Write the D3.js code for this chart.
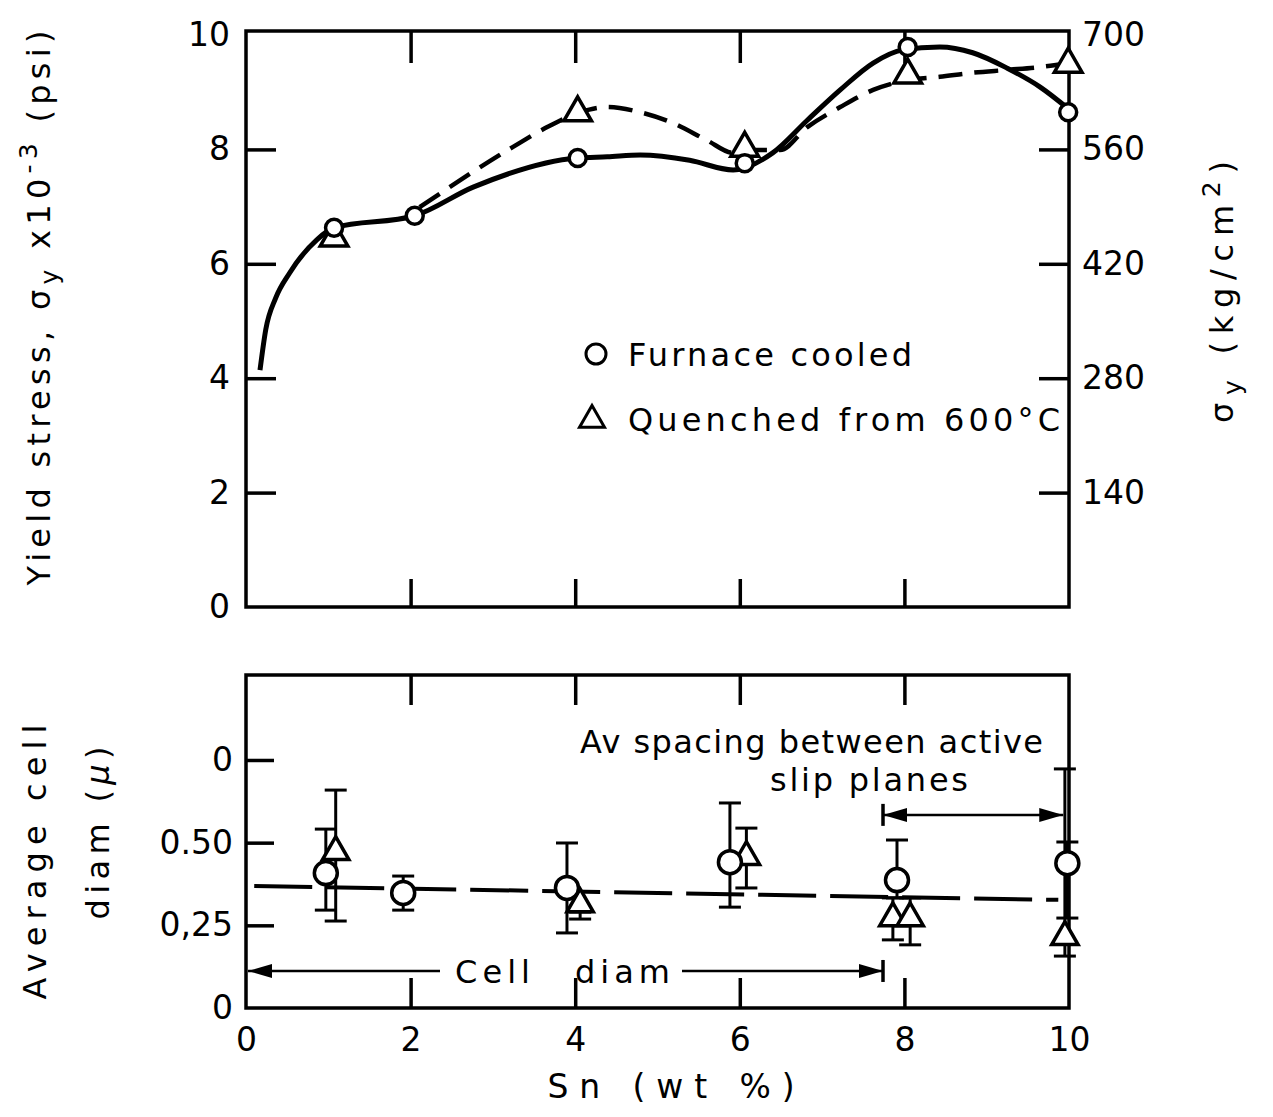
<!doctype html>
<html>
<head>
<meta charset="utf-8">
<script src="https://cdnjs.cloudflare.com/ajax/libs/d3/7.8.5/d3.min.js"></script>
<style>
  body { margin: 0; background: #fff; }
  svg { display: block; }
  text { font-family: "DejaVu Sans", sans-serif; fill: #000; }
</style>
</head>
<body>
<svg id="chart" width="1273" height="1117"></svg>
<script>
// ---- data ----
const snTicks = [0, 2, 4, 6, 8, 10];
const stressTicks = [0, 2, 4, 6, 8, 10];
const kgTicks = [140, 280, 420, 560, 700];
const diamTicks = [0, 0.25, 0.5, 0.75];
const diamTickLabels = ["0", "0,25", "0.50", "0"];

// top panel: yield stress (x10^3 psi)
const furnaceSn = [1.07, 2.05, 4.03, 6.06, 8.04, 9.99];
const furnaceStress = [6.63, 6.84, 7.85, 7.76, 9.79, 8.65];
const quenchSn = [1.07, 4.03, 6.06, 8.04, 9.99];
const quenchStress = [6.45, 8.64, 8.02, 9.30, 9.49];

// hand drawn curves
const furnaceCurveSn = [0.17, 0.24, 0.36, 0.53, 0.86, 1.07, 2.05, 2.76, 4.03, 4.39, 4.79, 5.39, 5.92, 6.40, 6.82, 7.22, 7.62, 7.98, 8.43, 8.83, 9.25, 9.65, 10.01];
const furnaceCurveStress = [4.14, 4.85, 5.4, 5.84, 6.42, 6.63, 6.84, 7.34, 7.85, 7.87, 7.90, 7.81, 7.64, 7.94, 8.51, 9.04, 9.51, 9.74, 9.79, 9.69, 9.42, 9.09, 8.69];
const quenchCurveSn = [2.11, 3.24, 3.66, 4.06, 4.39, 4.79, 5.19, 5.60, 5.92, 6.08, 6.49, 6.82, 7.22, 7.62, 8.03, 8.43, 8.83, 9.25, 9.65, 10.01];
const quenchCurveStress = [6.99, 8.04, 8.39, 8.65, 8.74, 8.65, 8.46, 8.16, 7.94, 7.99, 7.99, 8.39, 8.74, 9.04, 9.21, 9.27, 9.34, 9.39, 9.44, 9.51];

// bottom panel: average cell diameter (micron)
const cellCircSn = [0.97, 1.91, 3.90, 5.88, 7.91, 9.98];
const cellCircDiam = [0.408, 0.348, 0.363, 0.441, 0.387, 0.438];
const cellCircLo = [0.296, 0.296, 0.227, 0.305, 0.333, 0.272];
const cellCircHi = [0.541, 0.399, 0.499, 0.620, 0.508, 0.502];
const cellTriSn = [1.09, 4.06, 6.08, 7.86, 8.07, 9.95];
const cellTriDiam = [0.472, 0.314, 0.457, 0.272, 0.272, 0.215];
const cellTriLo = [0.263, 0.269, 0.363, 0.206, 0.191, 0.157];
const cellTriHi = [0.659, 0.290, 0.544, 0.333, 0.333, 0.723];
const fitSn = [0.1, 9.87];
const fitDiam = [0.369, 0.327];
const cellArrowSn = [0, 7.74], cellArrowDiam = 0.112;
const slipArrowSn = [7.74, 9.93], slipArrowDiam = 0.584;

// ---- layout ----
const svg = d3.select("#chart");
const x = d3.scaleLinear().domain([0, 10]).range([246, 1069]);
const yTop = d3.scaleLinear().domain([0, 10.07]).range([607, 31]);
const yKg = d3.scaleLinear().domain([0, 704.9]).range([607, 31]);
const yBot = d3.scaleLinear().domain([0, 1.007]).range([1008, 675]);

const zip = (a, b) => a.map((v, i) => [v, b[i]]);

function frame(yScale) {
  const [y0, y1] = yScale.range();
  svg.append("rect")
    .attr("x", x(0)).attr("y", y1)
    .attr("width", x(10) - x(0)).attr("height", y0 - y1)
    .attr("fill", "none").attr("stroke", "#000").attr("stroke-width", 3.5);
}

function styleAxis(g, hideAt, fs) {
  g.select(".domain").remove();
  g.selectAll(".tick line").attr("stroke", "#000").attr("stroke-width", 3.5)
    .filter(d => hideAt.includes(d)).remove();
  g.selectAll(".tick text").attr("font-size", fs || 33).attr("fill", "#000")
    .attr("font-family", "DejaVu Sans, sans-serif");
}

function label(xp, yp, str, len, fs) {
  return svg.append("text").attr("x", xp).attr("y", yp).attr("font-size", fs || 32)
    .attr("textLength", len).attr("lengthAdjust", "spacing").text(str);
}

// ---- top panel ----
frame(yTop);
svg.append("g").attr("transform", `translate(0,${yTop(10.07)})`)
  .call(d3.axisTop(x).tickValues([2, 4, 6, 8]).tickSize(-32).tickFormat(""))
  .call(g => styleAxis(g, []));
svg.append("g").attr("transform", `translate(0,${yTop(0)})`)
  .call(d3.axisBottom(x).tickValues([2, 4, 6, 8]).tickSize(-28).tickFormat(""))
  .call(g => styleAxis(g, []));
svg.append("g").attr("transform", `translate(${x(0)},0)`)
  .call(d3.axisLeft(yTop).tickValues(stressTicks).tickSize(-30).tickPadding(16).tickFormat(d3.format("d")))
  .call(g => styleAxis(g, [0, 10]));
svg.append("g").attr("transform", `translate(${x(10)},0)`)
  .call(d3.axisRight(yKg).tickValues(kgTicks).tickSize(-30).tickPadding(13).tickFormat(d3.format("d")))
  .call(g => styleAxis(g, [700]));

const curve = d3.line().x(d => x(d[0])).y(d => yTop(d[1])).curve(d3.curveMonotoneX);
svg.append("path").attr("d", curve(zip(quenchCurveSn, quenchCurveStress)))
  .attr("fill", "none").attr("stroke", "#000").attr("stroke-width", 4.5)
  .attr("stroke-dasharray", "24,12");
svg.append("path").attr("d", curve(zip(furnaceCurveSn, furnaceCurveStress)))
  .attr("fill", "none").attr("stroke", "#000").attr("stroke-width", 5);

const triTop = d3.symbol().type(d3.symbolTriangle).size(330);
svg.selectAll(".qt").data(zip(quenchSn, quenchStress)).join("path")
  .attr("transform", d => `translate(${x(d[0])},${yTop(d[1])})`)
  .attr("d", triTop).attr("fill", "#fff").attr("stroke", "#000").attr("stroke-width", 3.5);
svg.selectAll(".fc").data(zip(furnaceSn, furnaceStress)).join("circle")
  .attr("cx", d => x(d[0])).attr("cy", d => yTop(d[1])).attr("r", 8.5)
  .attr("fill", "#fff").attr("stroke", "#000").attr("stroke-width", 3.5);

// legend
svg.append("circle").attr("cx", 596).attr("cy", 354).attr("r", 10)
  .attr("fill", "#fff").attr("stroke", "#000").attr("stroke-width", 3);
svg.append("path").attr("transform", "translate(592,420)")
  .attr("d", d3.symbol().type(d3.symbolTriangle).size(270))
  .attr("fill", "#fff").attr("stroke", "#000").attr("stroke-width", 3);
label(628, 366, "Furnace  cooled", 284);
label(628, 431, "Quenched  from  600°C", 432);

// top axis titles
const ttl = svg.append("text").attr("transform", "translate(50,308) rotate(-90)")
  .attr("text-anchor", "middle").attr("font-size", 32)
  .attr("textLength", 555).attr("lengthAdjust", "spacing");
ttl.append("tspan").text("Yield  stress, σ");
ttl.append("tspan").attr("dy", 8).attr("font-size", 25).text("y");
ttl.append("tspan").attr("dy", -8).text(" x10");
ttl.append("tspan").attr("dy", -13).attr("font-size", 25).text("-3");
ttl.append("tspan").attr("dy", 13).text(" (psi)");

const rtl = svg.append("text").attr("transform", "translate(1233,292) rotate(-90)")
  .attr("text-anchor", "middle").attr("font-size", 32)
  .attr("textLength", 262).attr("lengthAdjust", "spacing");
rtl.append("tspan").text("σ");
rtl.append("tspan").attr("dy", 8).attr("font-size", 25).text("y");
rtl.append("tspan").attr("dy", -8).text(" (kg/cm");
rtl.append("tspan").attr("dy", -13).attr("font-size", 25).text("2");
rtl.append("tspan").attr("dy", 13).text(")");

// ---- bottom panel ----
frame(yBot);
svg.append("g").attr("transform", `translate(0,${yBot(1.007)})`)
  .call(d3.axisTop(x).tickValues([2, 4, 6, 8]).tickSize(-30).tickFormat(""))
  .call(g => styleAxis(g, []));
svg.append("g").attr("transform", `translate(0,${yBot(0)})`)
  .call(d3.axisBottom(x).tickValues(snTicks).tickSize(-30).tickPadding(20).tickFormat(d3.format("d")))
  .call(g => styleAxis(g, [0, 10]));
svg.append("g").attr("transform", `translate(${x(0)},0)`)
  .call(d3.axisLeft(yBot).tickValues(diamTicks).tickSize(-28).tickPadding(13)
    .tickFormat((d, i) => diamTickLabels[i]))
  .call(g => styleAxis(g, [0]));

// dashed fit line
svg.append("path")
  .attr("d", d3.line().x(d => x(d[0])).y(d => yBot(d[1]))(zip(fitSn, fitDiam)))
  .attr("fill", "none").attr("stroke", "#000").attr("stroke-width", 4)
  .attr("stroke-dasharray", "58,14");

function errorBars(sn, lo, hi, w) {
  const g = svg.append("g").attr("stroke", "#000").attr("stroke-width", 3);
  sn.forEach((s, i) => {
    const cx = x(s);
    g.append("line").attr("x1", cx).attr("x2", cx).attr("y1", yBot(lo[i])).attr("y2", yBot(hi[i]));
    [lo[i], hi[i]].forEach(v => g.append("line")
      .attr("x1", cx - w).attr("x2", cx + w).attr("y1", yBot(v)).attr("y2", yBot(v)));
  });
}
errorBars(cellCircSn, cellCircLo, cellCircHi, 11);
errorBars(cellTriSn, cellTriLo, cellTriHi, 11);

svg.selectAll(".ct").data(zip(cellTriSn, cellTriDiam)).join("path")
  .attr("transform", d => `translate(${x(d[0])},${yBot(d[1])})`)
  .attr("d", d3.symbol().type(d3.symbolTriangle).size(300))
  .attr("fill", "#fff").attr("stroke", "#000").attr("stroke-width", 3.5);
svg.selectAll(".cc").data(zip(cellCircSn, cellCircDiam)).join("circle")
  .attr("cx", d => x(d[0])).attr("cy", d => yBot(d[1])).attr("r", 11.5)
  .attr("fill", "#fff").attr("stroke", "#000").attr("stroke-width", 3.5);

// arrows
function arrowHead(px, py, dir) {
  svg.append("path")
    .attr("d", `M${px},${py} L${px - dir * 24},${py - 7} L${px - dir * 24},${py + 7} Z`)
    .attr("fill", "#000");
}
function bar(px, py) {
  svg.append("line").attr("x1", px).attr("x2", px).attr("y1", py - 11).attr("y2", py + 11)
    .attr("stroke", "#000").attr("stroke-width", 3.5);
}
// cell diam arrow
const cy1 = yBot(cellArrowDiam);
const ca0 = x(cellArrowSn[0]) + 2, ca1 = x(cellArrowSn[1]);
svg.append("line").attr("x1", ca0).attr("x2", 440).attr("y1", cy1).attr("y2", cy1)
  .attr("stroke", "#000").attr("stroke-width", 2.5);
svg.append("line").attr("x1", 682).attr("x2", ca1).attr("y1", cy1).attr("y2", cy1)
  .attr("stroke", "#000").attr("stroke-width", 2.5);
arrowHead(ca0, cy1, -1);
arrowHead(ca1, cy1, 1);
bar(ca1, cy1);
label(455, cy1 + 12, "Cell", 75);
label(575, cy1 + 12, "diam", 95);

// slip plane arrow
const sy1 = yBot(slipArrowDiam);
const sa0 = x(slipArrowSn[0]), sa1 = x(slipArrowSn[1]);
svg.append("line").attr("x1", sa0).attr("x2", sa1).attr("y1", sy1).attr("y2", sy1)
  .attr("stroke", "#000").attr("stroke-width", 2.5);
arrowHead(sa0, sy1, -1);
arrowHead(sa1, sy1, 1);
bar(sa0, sy1);
label(580, 753, "Av  spacing  between  active", 463);
label(770, 791, "slip  planes", 198);

// bottom axis titles
svg.append("text").attr("transform", "translate(35,862) rotate(-90)")
  .attr("text-anchor", "middle").attr("dominant-baseline", "central")
  .attr("font-size", 32).attr("textLength", 275).attr("lengthAdjust", "spacing")
  .text("Average    cell");
const dl = svg.append("text").attr("transform", "translate(98,833) rotate(-90)")
  .attr("text-anchor", "middle").attr("dominant-baseline", "central")
  .attr("font-size", 32).attr("textLength", 173).attr("lengthAdjust", "spacing");
dl.append("tspan").text("diam  (");
dl.append("tspan").attr("font-style", "italic").text("μ");
dl.append("tspan").text(")");

svg.append("text").attr("x", 671).attr("y", 1098).attr("text-anchor", "middle")
  .attr("font-size", 33).attr("textLength", 247).attr("lengthAdjust", "spacing")
  .text("Sn  (wt %)");
</script>
</body>
</html>
